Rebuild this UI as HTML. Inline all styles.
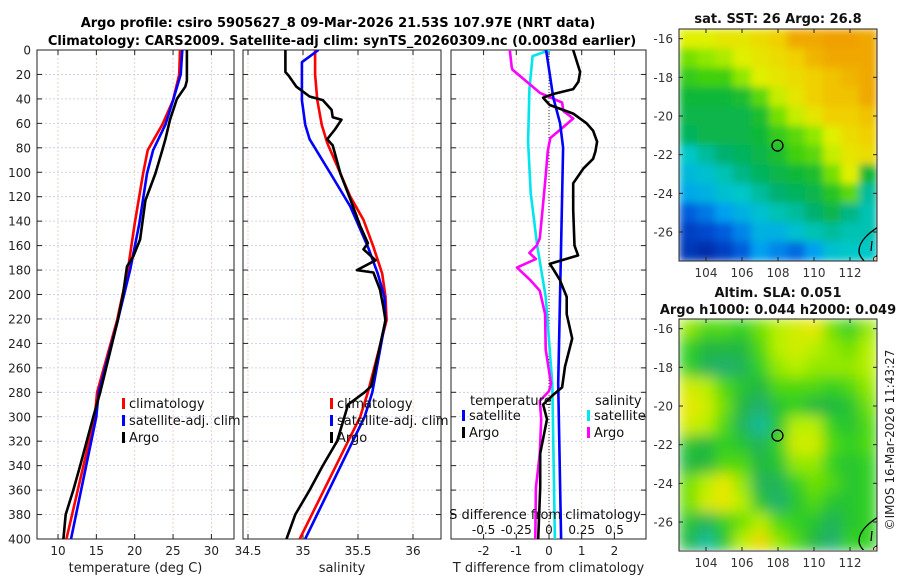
<!DOCTYPE html>
<html><head><meta charset="utf-8"><style>
html,body{margin:0;padding:0;background:#fff;}
svg{display:block;font-family:"DejaVu Sans","Liberation Sans",sans-serif;}
</style></head><body>
<svg id="fig" width="900" height="580" viewBox="0 0 900 580" xmlns="http://www.w3.org/2000/svg">
<defs>
<clipPath id="c1"><rect x="37" y="50" width="197" height="489"/></clipPath>
<clipPath id="c2"><rect x="243" y="50" width="198" height="489"/></clipPath>
<clipPath id="c3"><rect x="451" y="50" width="195" height="489"/></clipPath>
<clipPath id="cm1"><rect x="679" y="29" width="198" height="232"/></clipPath>
<clipPath id="cm2"><rect x="679" y="319" width="198" height="231"/></clipPath>
<filter id="bl1" x="0" y="0" width="1" height="1"><feGaussianBlur stdDeviation="4" edgeMode="duplicate"/></filter>
<filter id="bl2" x="0" y="0" width="1" height="1"><feGaussianBlur stdDeviation="7" edgeMode="duplicate"/></filter>
</defs>
<text x="338" y="27" text-anchor="middle" font-size="13" font-weight="bold">Argo profile: csiro 5905627_8 09-Mar-2026 21.53S 107.97E (NRT data)</text>
<text x="342" y="45" text-anchor="middle" font-size="13" font-weight="bold">Climatology: CARS2009. Satellite-adj clim: synTS_20260309.nc (0.0038d earlier)</text>
<g id="g1"></g>
<g id="g2"></g>
<g id="g3"></g>
<g id="m1"></g>
<g id="m2"></g>
<text transform="translate(894,440) rotate(-90)" text-anchor="middle" font-size="12" fill="#222">©IMOS 16-Mar-2026 11:43:27</text>
</svg>
<script>
// ---- profile data ----
const depthTicks=[0,20,40,60,80,100,120,140,160,180,200,220,240,260,280,300,320,340,360,380,400];
const tTicks=[10,15,20,25,30];
const sTicks=[34.5,35,35.5,36];
const dTicks=[-2,-1,0,1,2];
const sdTickLabels=["-0.5","-0.25","0","0.25","0.5"];
const sdTicks=[-0.5,-0.25,0,0.25,0.5];

const climTDepth=[0,20,41,61,82,101,142,180,221,280,300,400];
const climT=[25.9,25.8,25.0,23.6,21.7,21.1,20.0,19.1,17.7,15.1,14.8,11.1];
const satTDepth=[0,20,41,61,82,101,142,180,221,280,300,400];
const satT=[26.2,26.0,25.0,24.0,22.4,21.6,20.6,19.4,17.8,15.3,15.0,11.7];
const argoTDepth=[0,25,30,40,57,73,82,101,123,155,169,177,199,221,280,300,340,360,380,400];
const argoT=[26.8,26.8,26.6,25.5,24.6,24.0,23.6,22.7,21.4,20.7,19.8,19.0,18.5,17.8,15.5,14.6,12.9,12.0,11.0,10.7];

const climSDepth=[0,20,41,61,76,101,120,139,161,183,202,221,280,300,400];
const climS=[35.11,35.11,35.13,35.17,35.22,35.34,35.43,35.55,35.64,35.72,35.75,35.76,35.59,35.52,34.97];
const satSDepth=[0,10,41,61,73,101,128,161,183,202,221,280,300,400];
const satS=[35.14,34.99,34.99,35.02,35.06,35.25,35.43,35.59,35.68,35.74,35.75,35.63,35.56,35.02];
const argoSDepth=[0,18,21,30,38,41,49,55,57,65,73,78,101,122,144,158,163,172,180,182,196,210,221,275,280,290,320,340,360,380,400];
const argoS=[34.84,34.84,34.87,34.94,35.06,35.18,35.26,35.27,35.35,35.29,35.22,35.27,35.34,35.43,35.52,35.59,35.55,35.66,35.49,35.64,35.70,35.73,35.75,35.62,35.56,35.41,35.31,35.18,35.06,34.93,34.85];

const satTdDepth=[0,39,60,80,160,273,400];
const satTd=[-0.09,0.13,0.34,0.43,0.37,0.28,0.37];
const argoTdDepth=[0,18,26,32,36,39,45,52,60,66,75,83,89,97,109,131,160,168,175,178,188,202,216,236,259,276,282,290,302,330,358,400];
const argoTd=[0.74,0.95,0.9,0.74,0.13,-0.18,0.02,0.74,1.15,1.35,1.47,1.42,1.35,1.05,0.74,0.74,0.78,0.89,0.02,0.1,0.33,0.54,0.54,0.71,0.49,0.4,0.13,-0.18,-0.06,-0.27,-0.27,-0.33];
const satSdDepth=[0,5,32,75,117,160,202,273,400];
const satSd=[0.008,-0.125,-0.15,-0.16,-0.14,-0.09,-0.025,0.025,0.045];
const argoSdDepth=[0,14,16,26,35,43,50,56,63,72,83,103,131,154,160,166,171,178,188,197,216,245,273,279,287,302,330,358,400];
const argoSd=[-0.3,-0.285,-0.28,-0.17,-0.07,0.1,0.11,0.185,0.11,0.01,-0.01,-0.025,-0.05,-0.07,-0.095,-0.15,-0.1,-0.245,-0.145,-0.07,-0.03,-0.025,0.015,0,-0.07,-0.06,-0.07,-0.1,-0.105];

// ---- map data (rows lat -16..-27, cols lon 103..113) ----
const mapLats=[-16,-17,-18,-19,-20,-21,-22,-23,-24,-25,-26,-27];
const mapLons=[103,104,105,106,107,108,109,110,111,112,113];
const sstRows=[
[26.0,26.0,26.1,26.1,26.2,26.3,26.6,26.6,26.7,26.7,26.6],
[25.6,25.7,25.8,26.0,26.1,26.2,26.3,26.5,26.6,26.6,26.6],
[25.3,25.4,25.4,25.7,26.0,26.1,26.2,26.3,26.4,26.5,26.6],
[25.0,25.0,25.0,25.1,25.5,25.9,26.1,26.3,26.4,26.4,26.6],
[24.9,24.9,24.9,24.9,25.1,25.6,25.9,26.1,26.3,26.3,26.4],
[24.8,24.9,24.9,24.9,25.0,25.3,25.5,25.7,26.0,26.2,26.3],
[24.3,24.5,24.7,24.8,24.9,25.1,25.4,25.5,25.9,26.1,26.2],
[24.1,24.2,24.4,24.6,24.8,24.9,25.0,25.1,25.6,26.0,25.0],
[23.9,24.0,24.2,24.3,24.5,24.7,24.8,24.9,25.2,25.5,24.5],
[23.3,23.5,23.8,24.0,24.2,24.4,24.5,24.7,24.9,24.6,24.4],
[23.0,23.1,23.3,23.6,24.0,24.0,24.2,24.4,24.5,24.4,24.4],
[22.9,22.8,23.0,23.3,23.8,23.6,23.4,23.8,24.2,24.3,24.3]];
const slaRows=[
[0.5,0.3,0.3,0.2,0.4,0.6,0.7,0.8,0.4,0.2,0.5],
[0.2,0.0,0.0,0.0,0.3,0.6,0.7,0.6,0.5,0.4,0.6],
[0.2,-0.1,-0.2,-0.1,0.2,0.5,0.6,0.5,0.5,0.5,0.6],
[0.7,0.6,0.3,0.1,0.0,0.3,0.3,0.3,0.2,0.3,0.5],
[0.8,0.7,0.4,0.0,-0.2,0.1,0.2,0.0,0.0,0.1,0.4],
[0.7,0.6,0.3,-0.1,-0.4,0.1,0.6,0.6,0.2,0.1,0.3],
[0.1,0.0,0.2,0.1,-0.1,0.2,0.7,0.7,0.3,0.2,0.3],
[0.0,0.0,0.3,0.3,0.0,0.1,0.5,0.5,0.2,0.1,0.2],
[0.4,0.6,0.8,0.5,-0.1,-0.1,0.2,0.4,0.3,0.1,0.2],
[0.4,0.7,0.8,0.6,0.1,-0.2,0.1,0.3,0.1,0.1,0.2],
[0.1,-0.1,0.2,0.4,0.6,0.3,0.2,0.1,-0.1,0.1,0.2],
[0.0,-0.4,0.1,0.6,0.9,0.5,0.3,0.0,-0.2,0.2,0.2]];
const argoLon=107.97, argoLat=-21.53;
const lonTicks=[104,106,108,110,112];
const latTicks=[-16,-18,-20,-22,-24,-26];

const NS='http://www.w3.org/2000/svg';
function mk(parent,tag,attrs,text){const e=document.createElementNS(NS,tag);for(const k in attrs)e.setAttribute(k,attrs[k]);if(text!==undefined)e.textContent=text;parent.appendChild(e);return e;}

const TOP=50,BOT=539;
const yD=d=>TOP+d*(BOT-TOP)/400;
const xT=v=>58+(v-10)*7.67;
const xS=v=>303+(v-35)*110;
const xDf=v=>549+v*32.7;

function panel(g,L,R,vgrid,xfn,ticks,tickLabels,xlabel,showY,clip){
  const gr=mk(g,'g',{});
  
  
  depthTicks.forEach(d=>{mk(gr,'line',{x1:L,x2:R,y1:yD(d),y2:yD(d),stroke:'#c4c8ee','stroke-width':0.8,'stroke-dasharray':'2,2'});});
  vgrid.forEach(v=>{mk(gr,'line',{x1:xfn(v),x2:xfn(v),y1:TOP,y2:BOT,stroke:'#ecc8b8','stroke-width':0.8,'stroke-dasharray':'2,2'});});
  const ax=mk(g,'rect',{x:L,y:TOP,width:R-L,height:BOT-TOP,fill:'none',stroke:'#222','stroke-width':1});
  
  
  depthTicks.forEach(d=>{
    mk(g,'line',{x1:L,x2:L+5,y1:yD(d),y2:yD(d),stroke:'#222'});
    mk(g,'line',{x1:R-5,x2:R,y1:yD(d),y2:yD(d),stroke:'#222'});
    if(showY){const t=mk(g,'text',{x:L-6,y:yD(d)+4.5,'text-anchor':'end','font-size':12,fill:'#222'},String(d));
      
      }
  });
  ticks.forEach((v,i)=>{
    mk(g,'line',{x1:xfn(v),x2:xfn(v),y1:BOT-5,y2:BOT,stroke:'#222'});
    mk(g,'line',{x1:xfn(v),x2:xfn(v),y1:TOP,y2:TOP+5,stroke:'#222'});
    const t=mk(g,'text',{x:xfn(v),y:BOT+16,'text-anchor':'middle','font-size':12,fill:'#222'},tickLabels[i]);
    
    
  });
  const xl=mk(g,'text',{x:(L+R)/2,y:572,'text-anchor':'middle','font-size':13,fill:'#222'},xlabel);
  
  
}
function series(g,clip,dep,val,xfn,color,name){
  const pts=dep.map((d,i)=>xfn(val[i]).toFixed(1)+','+yD(d).toFixed(1)).join(' ');
  const p=mk(g,'polyline',{points:pts,fill:'none',stroke:color,'stroke-width':2.6,'stroke-linejoin':'round','clip-path':'url(#'+clip+')'});
  
  
}
function legend(g,x,y,items){
  items.forEach((it,i)=>{
    mk(g,'rect',{x:x,y:y+i*17-12,width:3,height:11,fill:it[1]});
    const t=mk(g,'text',{x:x+7,y:y+i*17-2,'font-size':13,fill:'#111'},it[0]);
    
    
  });
}

const g1=document.getElementById('g1');
panel(g1,37,234,tTicks,xT,tTicks,tTicks.map(String),'temperature (deg C)',true,'c1');
series(g1,'c1',climTDepth,climT,xT,'#f00','climatology-temp-line');
series(g1,'c1',satTDepth,satT,xT,'#00f','satellite-temp-line');
series(g1,'c1',argoTDepth,argoT,xT,'#000','argo-temp-line');
legend(g1,122,410,[['climatology','#f00'],['satellite-adj. clim','#00f'],['Argo','#000']]);

const g2=document.getElementById('g2');
panel(g2,243,441,sTicks,xS,sTicks,sTicks.map(String),'salinity',false,'c2');
series(g2,'c2',climSDepth,climS,xS,'#f00','climatology-salinity-line');
series(g2,'c2',satSDepth,satS,xS,'#00f','satellite-salinity-line');
series(g2,'c2',argoSDepth,argoS,xS,'#000','argo-salinity-line');
legend(g2,330,410,[['climatology','#f00'],['satellite-adj. clim','#00f'],['Argo','#000']]);

const g3=document.getElementById('g3');
panel(g3,451,646,dTicks,xDf,dTicks,dTicks.map(String),'T difference from climatology',false,'c3');
mk(g3,'line',{x1:xDf(0),x2:xDf(0),y1:TOP,y2:BOT,stroke:'#333','stroke-width':1,'stroke-dasharray':'1,2'});
const xSd=v=>xDf(4*v);
series(g3,'c3',satSdDepth,satSd,xSd,'#00e5ee','satellite-sdiff-line');
series(g3,'c3',argoSdDepth,argoSd,xSd,'#f0f','argo-sdiff-line');
series(g3,'c3',satTdDepth,satTd,xDf,'#00f','satellite-tdiff-line');
series(g3,'c3',argoTdDepth,argoTd,xDf,'#000','argo-tdiff-line');
{const t=mk(g3,'text',{x:470,y:405,'font-size':13,fill:'#111'},'temperature');
 const u=mk(g3,'text',{x:595,y:405,'font-size':13,fill:'#111'},'salinity');}
legend(g3,462,422,[['satellite','#00f'],['Argo','#000']]);
legend(g3,587,422,[['satellite','#00e5ee'],['Argo','#f0f']]);
{const t=mk(g3,'text',{x:545,y:519,'text-anchor':'middle','font-size':13,fill:'#111'},'S difference from climatology');}
sdTicks.forEach((v,i)=>{const t=mk(g3,'text',{x:xSd(v),y:534,'text-anchor':'middle','font-size':12,fill:'#111'},sdTickLabels[i]);});

// ---- maps ----
const ML=679,MR=877;
const lonX=lon=>ML+(lon-102.5)*(MR-ML)/11;
function lerpColor(stops,v){
  if(v<=stops[0][0])return 'rgb('+stops[0][1].join(',')+')';
  for(let i=1;i<stops.length;i++){if(v<=stops[i][0]){const a=stops[i-1],b=stops[i];const f=(v-a[0])/(b[0]-a[0]);
    const ca=a[1],cb=b[1];return 'rgb('+ca.map((c,j)=>Math.round(c+(cb[j]-c)*f)).join(',')+')';}}
  return 'rgb('+stops[stops.length-1][1].join(',')+')';
}
const sstStops=[[22.6,[0,30,150]],[23.2,[0,80,216]],[23.8,[0,160,240]],[24.3,[0,200,200]],[24.7,[0,176,112]],[25.0,[16,184,56]],[25.4,[64,208,16]],[25.7,[144,232,0]],[26.0,[224,240,0]],[26.3,[240,208,0]],[26.6,[240,168,0]],[26.8,[240,152,0]]];
const slaStops=[[-0.5,[16,192,176]],[-0.2,[32,176,112]],[0,[32,184,64]],[0.2,[48,208,32]],[0.4,[112,224,0]],[0.6,[184,240,0]],[0.8,[232,232,0]],[1.0,[240,200,0]]];
function drawMap(id,top,rows,stops,blur,clip,titles){
  const g=document.getElementById(id);
  const bot=top+232;
  const latY=lat=>top+(-15.5-lat)*(232/12);
  const hm=mk(g,'g',{'clip-path':'url(#'+clip+')'});
  const inner=mk(hm,'g',{filter:'url(#'+blur+')'});
  
  
  rows.forEach((row,r)=>row.forEach((v,c)=>{
    const x0=lonX(mapLons[c]-0.5),y0=latY(mapLats[r]+0.5);
    const cell=mk(inner,'rect',{x:x0,y:y0,width:lonX(mapLons[c]+0.5)-x0+0.5,height:latY(mapLats[r]-0.5)-y0+0.5,fill:lerpColor(stops,v)});
    
    
  }));
  const coast=mk(hm,'path',{d:`M${MR+1},${top+198} C${MR-8},${top+204} ${MR-18},${top+212} ${MR-18},${top+222} C${MR-18},${top+228} ${MR-12},${top+232} ${MR-10},${top+236}`,fill:'none',stroke:'#000','stroke-width':1.3});
  
  
  mk(hm,'path',{d:`M${MR-5},${top+212} L${MR-6},${top+222} M${MR},${top+226} L${MR-3},${top+232}`,stroke:'#000','stroke-width':1.2,fill:'none'});
  mk(hm,'circle',{cx:MR-1,cy:top+230,r:2.5,fill:'#f0c8a0',stroke:'#000','stroke-width':0.8});
  const c=mk(g,'circle',{cx:lonX(argoLon),cy:latY(argoLat),r:5.5,fill:'none',stroke:'#000','stroke-width':1.3});
  
  
  const box=mk(g,'rect',{x:ML,y:top,width:MR-ML,height:232,fill:'none',stroke:'#222','stroke-width':1});
  
  
  lonTicks.forEach(l=>{mk(g,'line',{x1:lonX(l),x2:lonX(l),y1:bot-4,y2:bot,stroke:'#222'});mk(g,'line',{x1:lonX(l),x2:lonX(l),y1:top,y2:top+4,stroke:'#222'});
    const t=mk(g,'text',{x:lonX(l),y:bot+16,'text-anchor':'middle','font-size':12,fill:'#333'},String(l));
    
    });
  latTicks.forEach(l=>{mk(g,'line',{x1:ML,x2:ML+4,y1:latY(l),y2:latY(l),stroke:'#222'});mk(g,'line',{x1:MR-4,x2:MR,y1:latY(l),y2:latY(l),stroke:'#222'});
    const t=mk(g,'text',{x:ML-6,y:latY(l)+4.5,'text-anchor':'end','font-size':12,fill:'#333'},String(l));
    
    });
  titles.forEach(tt=>{const t=mk(g,'text',{x:tt[1],y:tt[2],'text-anchor':'middle','font-size':13,'font-weight':'bold',fill:'#111'},tt[0]);
    
    });
}
drawMap('m1',29,sstRows,sstStops,'bl1','cm1',[['sat. SST: 26 Argo: 26.8',778,23]]);
drawMap('m2',319,slaRows,slaStops,'bl2','cm2',[['Altim. SLA: 0.051',778,297],['Argo h1000: 0.044 h2000: 0.049',778,314]]);
</script>
</body></html>
